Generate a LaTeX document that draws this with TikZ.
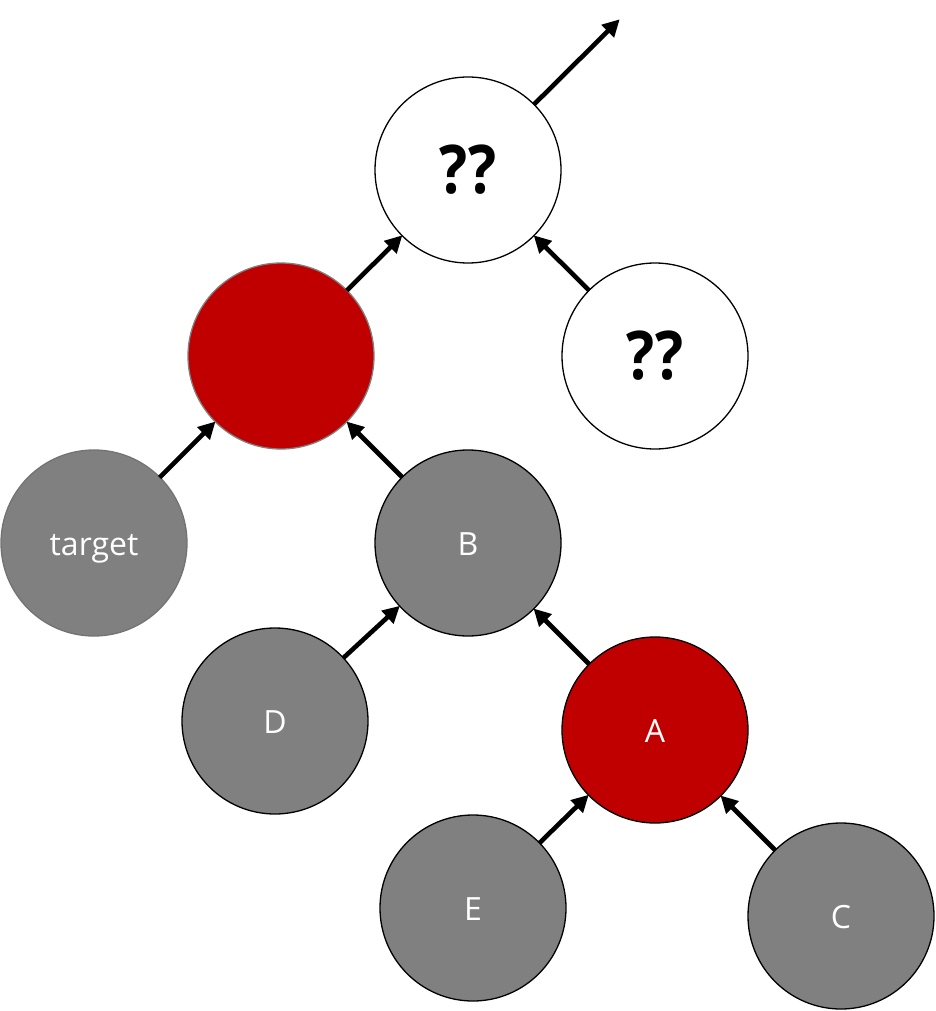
\documentclass[tikz,border=0pt]{standalone}
\usepackage{fontspec}
\setmainfont{Open Sans}
\usetikzlibrary{arrows.meta}
\definecolor{nodegray}{RGB}{128,128,128}
\definecolor{nodered}{RGB}{192,0,0}
\tikzset{
  circ/.style={circle, minimum size=186pt, inner sep=0pt, line width=1.3pt},
  lbl/.style={text=white, font=\fontsize{32}{36}\selectfont, text height=25pt, text depth=0pt},
  grayc/.style={circ, lbl, fill=nodegray, draw=black},
  grayn/.style={circ, lbl, fill=nodegray, draw=nodegray!90!black},
  redc/.style={circ, lbl, fill=nodered, draw=black},
  redn/.style={circ, fill=nodered, draw=nodegray},
  whitec/.style={circ, fill=white, draw=black, font=\bfseries\fontsize{64}{70}\selectfont},
  arr/.style={line width=4.6pt, -{Triangle[length=17pt,width=17pt]}, shorten <=-1pt, shorten >=-1pt}
}
\begin{document}
\begin{tikzpicture}[x=1pt,y=-1pt]
\useasboundingbox (0,0) rectangle (936,1011);
\node[whitec] (top) at (468,170) {\scalebox{0.92}[1.05]{??}};
\node[whitec] (q) at (655,356) {\scalebox{0.92}[1.05]{??}};
\node[redn] (r) at (281,356) {};
\node[grayn] (t) at (94,543) {target};
\node[grayc] (b) at (468,543) {B};
\node[grayc] (d) at (275,721) {D};
\node[redc] (a) at (655,730) {A};
\node[grayc] (e) at (473,908) {E};
\node[grayc] (c) at (841,916) {C};
\coordinate (up) at (619,20);
\draw[arr] (top) -- (up);
\draw[arr] (r) -- (top);
\draw[arr] (q) -- (top);
\draw[arr] (t) -- (r);
\draw[arr] (b) -- (r);
\draw[arr] (d) -- (b);
\draw[arr] (a) -- (b);
\draw[arr] (e) -- (a);
\draw[arr] (c) -- (a);
\end{tikzpicture}
\end{document}
